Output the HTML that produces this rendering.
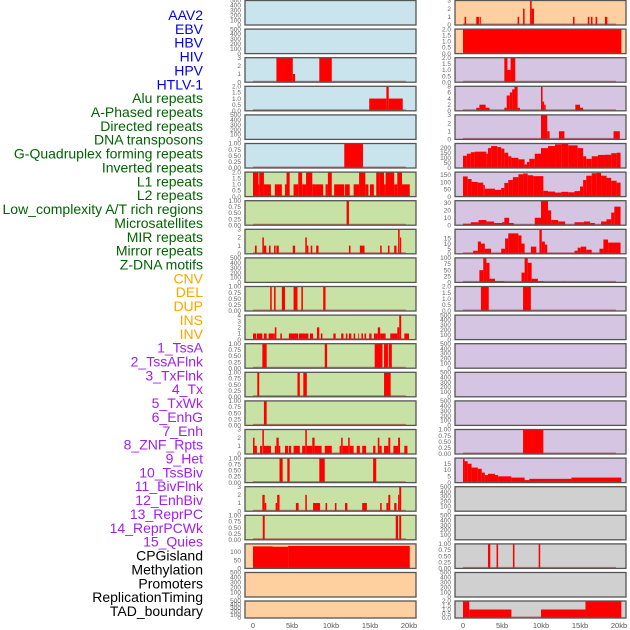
<!DOCTYPE html>
<html><head><meta charset="utf-8"><style>
body{margin:0;background:#fff;}
svg{display:block;font-family:"Liberation Sans",sans-serif;}
</style></head><body>
<svg id="chart" width="630" height="630" viewBox="0 0 630 630" xmlns="http://www.w3.org/2000/svg">
<g id="labels"></g>
<g id="panels"></g>
<g id="xaxis"></g>
</svg>
<script>
// ---- data ----
const labelNames = ["AAV2","EBV","HBV","HIV","HPV","HTLV-1","Alu repeats","A-Phased repeats","Directed repeats","DNA transposons","G-Quadruplex forming repeats","Inverted repeats","L1 repeats","L2 repeats","Low_complexity A/T rich regions","Microsatellites","MIR repeats","Mirror repeats","Z-DNA motifs","CNV","DEL","DUP","INS","INV","1_TssA","2_TssAFlnk","3_TxFlnk","4_Tx","5_TxWk","6_EnhG","7_Enh","8_ZNF_Rpts","9_Het","10_TssBiv","11_BivFlnk","12_EnhBiv","13_ReprPC","14_ReprPCWk","15_Quies","CPGisland","Methylation","Promoters","ReplicationTiming","TAD_boundary"];
const labelGroups = [6,13,5,15,5];
const groupColors = ["#0000ee","#006400","#ffa500","#a020f0","#000000"];
const xTicks = [0,5,10,15,20];
const xTickLabels = ["0","5kb","10kb","15kb","20kb"];

const T500=[0,100,200,300,400,500], T1=[0,0.25,0.5,0.75,1], T2=[0,0.5,1,1.5,2], T3=[0,1,2,3], T4=[0,1,2,3,4], T8=[0,2,4,6,8];
const tCpg=[0,50,100], tGq=[0,50,100,150,200], tL2=[0,50,100,150], t30=[0,10,20,30], t15=[0,5,10,15], t100=[0,25,50,75,100];

// left column series: [startKb, endKb, value]
const l1=[], l2=[], l5=[], l10=[], l21=[], l22=[];
const l3=[[3.0,5.1,3],[5.1,5.4,1],[8.5,10.1,3]];
const l4=[[14.9,17.1,1],[17.1,17.4,2],[17.4,19.2,1]];
const l6=[[11.7,14.1,1]];
const l7=[[0,0.7,2],[0.7,0.8,1],[0.8,1.4,2],[1.4,2.3,1],[2.8,3.7,1],[4.1,4.3,1],[4.3,4.7,2],[5.2,5.8,1],[5.8,6.3,2],[6.3,6.8,1],[6.8,7.6,2],[7.6,9.0,1],[9.3,9.6,1],[9.6,10.1,2],[10.4,11.7,1],[11.8,12.4,1],[12.9,13.6,1],[13.6,14.4,2],[14.4,14.8,1],[15.0,15.5,1],[15.8,16.2,2],[16.2,16.8,2],[16.8,17.0,1],[17.0,18.1,2],[18.1,18.5,1],[18.5,19.1,2],[19.1,20.1,1]];
const l8=[[12.0,12.3,1]];
const l9=[[0.25,0.47,1],[1.2,1.4,2],[1.4,1.7,1],[2.05,2.25,1],[2.7,2.9,1],[3.0,3.3,1],[5.1,5.4,1],[6.7,6.9,2],[6.9,7.1,1],[7.4,7.6,1],[8.1,8.4,1],[12.3,12.5,1],[13.7,14.1,1],[14.1,14.3,1],[16.3,16.5,1],[17.3,17.5,1],[18.1,18.4,1],[18.6,18.8,3],[18.85,19.0,2]];
const l11=[[2.2,2.4,1],[2.7,2.9,1],[3.7,4.1,1],[5.2,5.7,1],[6.2,6.4,1],[9.0,9.3,1]];
const l12=[[0,0.4,1],[0.5,1.2,1],[1.4,1.75,1],[2.0,2.6,1],[2.6,2.8,1],[2.8,3.0,2],[3.5,3.7,1],[4.6,5.8,1],[5.9,6.6,1],[6.6,7.1,1],[7.3,7.7,1],[8.2,8.5,2],[8.7,8.9,1],[10.3,10.6,1],[11.3,11.6,1],[11.9,12.1,1],[12.3,12.6,1],[12.9,13.1,1],[13.5,13.6,1],[13.9,14.1,1],[14.3,14.5,1],[14.9,15.2,1],[15.5,15.7,1],[15.7,16.0,1],[16.0,16.3,2],[16.3,17.0,1],[17.6,18.5,1],[18.5,18.75,2],[18.75,19.0,4],[19.4,20.0,1]];
const l13=[[1.2,1.75,1],[9.2,9.5,1],[15.6,16.6,1],[16.8,17.3,1],[17.4,17.8,1]];
const l14=[[0.55,0.8,1],[5.7,6.0,1],[6.45,6.9,1],[16.8,17.65,1]];
const l15=[[1.4,1.75,1]];
const l16=[[0,0.2,2],[0.2,0.5,1],[0.9,1.15,1],[1.2,1.4,3],[1.4,2.3,1],[2.8,3.0,1],[3.0,3.3,2],[3.3,3.5,1],[4.1,4.5,1],[4.6,4.9,1],[5.2,6.0,1],[6.3,6.7,1],[6.7,6.9,3],[6.9,7.6,1],[7.6,7.9,2],[7.9,8.8,1],[9.2,10.1,1],[11.1,11.3,1],[11.3,11.5,2],[11.5,12.2,1],[12.2,12.4,2],[12.4,12.9,1],[13.3,13.7,1],[14.0,14.5,1],[15.4,15.7,1],[16.0,16.2,2],[16.2,16.5,1],[16.8,17.35,1],[17.35,17.6,2],[18.0,18.6,1],[18.6,18.85,2],[19.4,19.8,1]];
const l17=[[3.4,3.8,1],[4.4,4.7,1],[8.5,9.2,1],[15.4,15.8,1]];
const l18=[[1.2,1.5,2],[1.5,1.7,1],[2.9,3.1,1],[3.1,3.4,2],[5.5,5.85,1],[6.7,6.9,2],[7.7,8.6,1],[9.3,9.5,1],[10.5,10.7,1],[11.8,12.1,1],[14.0,14.6,1],[16.3,16.5,1],[17.1,17.35,1],[17.35,17.6,2],[18.1,18.4,1],[18.6,18.75,2],[18.75,19.0,3]];
const l19=[[1.25,1.5,1],[18.3,18.6,1],[18.75,19.0,1]];
const l20=[[0,2.5,133],[2.5,4.5,131],[4.5,20.1,136]];

// right column series
const r12=[], r13=[], r14=[], r15=[], r18=[], r19=[], r21=[];
const r1=[[0.2,0.4,1],[1.7,2.1,1],[2.2,2.3,1],[7.0,7.2,1],[7.7,7.9,2],[8.6,8.8,3],[8.8,9.1,2],[14.1,14.3,1],[16.0,16.2,1],[16.4,16.6,1],[17.0,17.2,1],[18.2,18.5,1]];
const r2=[[0,20.3,2]];
const r3=[[5.3,5.7,2],[5.7,6.1,1],[6.1,6.7,2]];
const r4=[[1.7,2.1,1],[2.1,2.9,2],[2.9,3.4,1],[5.3,5.6,1],[5.6,6.0,5],[6.0,6.3,6],[6.3,6.6,7],[6.6,7.0,8],[7.0,7.3,1],[10.0,10.2,8],[10.2,10.4,3],[10.4,10.6,2],[14.4,15.0,2],[15.0,15.4,1]];
const r5=[[10.0,10.8,3],[10.8,11.1,1],[12.3,13.0,1],[19.3,20.1,1]];
const r6=[[0,0.5,120],[0.5,1,140],[1,1.5,155],[1.5,2.5,160],[2.5,3.0,160],[3.0,3.2,140],[3.2,3.6,195],[3.6,4.4,215],[4.4,4.9,205],[4.9,5.3,190],[5.3,5.8,150],[5.8,6.2,115],[6.2,7.1,100],[7.1,7.9,85],[7.9,8.2,35],[8.2,8.5,60],[8.5,9.2,90],[9.2,10.0,140],[10.0,10.9,195],[10.9,11.8,215],[11.8,12.6,232],[12.6,13.5,235],[13.5,14.7,222],[14.7,15.4,195],[15.4,15.8,115],[15.8,16.5,90],[16.5,17.3,115],[17.3,18.2,128],[18.2,19.0,130],[19.0,19.7,145],[19.7,20.2,150]];
const r7=[[0,0.6,140],[0.6,1.1,122],[1.1,1.9,102],[1.9,2.6,97],[2.6,2.8,80],[2.8,4.1,55],[4.1,4.9,47],[4.9,5.3,60],[5.3,5.8,95],[5.8,6.4,115],[6.4,7.1,135],[7.1,7.7,155],[7.7,8.3,160],[8.3,9.0,148],[9.0,10.3,142],[10.3,10.9,40],[10.9,11.8,35],[11.8,12.6,28],[12.6,13.5,33],[13.5,14.3,30],[14.3,15.0,38],[15.0,15.4,70],[15.4,15.8,115],[15.8,16.5,145],[16.5,17.1,162],[17.1,17.7,165],[17.7,18.4,145],[18.4,19.0,130],[19.0,19.7,110],[19.7,20.2,97]];
const r8=[[0,1,2],[1,2,4],[2,3,7],[3,4,5],[4,5,3],[5,5.3,4],[5.3,5.9,10],[5.9,6.5,3],[9.2,10.0,10],[10.0,10.9,33],[10.9,11.3,20],[11.3,12.2,7],[12.2,13.1,5],[14.3,15.5,4],[15.5,16.3,5],[16.3,16.9,3],[17.7,18.4,5],[18.4,19.0,8],[19.0,19.4,17],[19.4,20.2,25]];
const r9=[[1.3,1.9,3],[1.9,2.3,12],[2.3,2.8,10],[2.8,3.6,5],[4.9,5.4,5],[5.4,5.8,15],[5.8,7.1,20],[7.1,7.5,18],[7.5,7.9,10],[8.7,9.4,7],[9.8,10.1,24],[10.1,10.5,12],[10.5,10.8,9],[14.3,14.7,3],[14.7,15.1,6],[15.1,15.8,7],[15.8,16.5,4],[17.5,18.0,5],[18.0,18.6,14],[18.6,20.2,11]];
const r10=[[2.1,2.6,50],[2.6,3.0,100],[3.0,3.4,80],[3.4,4.1,15],[4.1,5.3,5],[7.5,7.9,40],[7.9,8.3,100],[8.3,8.8,80],[8.8,9.6,15],[9.6,10.3,5],[12.9,13.2,3]];
const r11=[[2.3,3.3,2],[7.7,8.7,2]];
const r16=[[7.7,10.3,1]];
const r17=[[0,0.2,19],[0.2,0.6,17],[0.6,1.1,15],[1.1,1.9,12],[1.9,2.4,11],[2.4,2.8,8],[2.8,3.2,6],[3.2,4.1,7],[4.1,4.5,6],[4.5,6.2,5],[6.2,7.9,4],[7.9,8.5,2],[8.5,13.9,3],[13.9,20.3,4]];
const r20=[[3.2,3.5,1],[4.3,4.5,1],[6.4,6.6,1],[9.7,9.9,1]];
const r22=[[0,0.8,2],[0.8,6.2,1],[10,15.7,1],[15.7,20.3,2]];

const leftSeries=[l1,l2,l3,l4,l5,l6,l7,l8,l9,l10,l11,l12,l13,l14,l15,l16,l17,l18,l19,l20,l21,l22];
const rightSeries=[r1,r2,r3,r4,r5,r6,r7,r8,r9,r10,r11,r12,r13,r14,r15,r16,r17,r18,r19,r20,r21,r22];
const leftTicks=[T500,T500,T3,T2,T500,T1,T2,T1,T3,T500,T1,T4,T1,T1,T1,T3,T1,T3,T1,tCpg,T500,T500];
const rightTicks=[T3,T2,T2,T8,T3,tGq,tL2,t30,t15,t100,T2,T500,T500,T500,T500,T1,t15,T500,T500,T1,T500,T2];
const leftYMax=[500,500,3,2,500,1,2,1,3,500,1,4,1,1,1,3,1,3,1,148,500,500];
const rightYMax=[3,2,2,8,3,240,170,33,24,100,2,500,500,500,500,1,19.5,500,500,1,500,2];
const leftBg=["#c9e4ec","#c9e4ec","#c9e4ec","#c9e4ec","#c9e4ec","#c9e4ec","#c8e1a5","#c8e1a5","#c8e1a5","#c8e1a5","#c8e1a5","#c8e1a5","#c8e1a5","#c8e1a5","#c8e1a5","#c8e1a5","#c8e1a5","#c8e1a5","#c8e1a5","#fed0a0","#fed0a0","#fed0a0"];
const rightBg=["#fed0a0","#fed0a0","#d5c5e2","#d5c5e2","#d5c5e2","#d5c5e2","#d5c5e2","#d5c5e2","#d5c5e2","#d5c5e2","#d5c5e2","#d5c5e2","#d5c5e2","#d5c5e2","#d5c5e2","#d5c5e2","#d5c5e2","#d0d0d0","#d0d0d0","#d0d0d0","#d0d0d0","#d0d0d0"];

// ---- drawing ----
const NS="http://www.w3.org/2000/svg";
function mk(tag,attrs,parent){const e=document.createElementNS(NS,tag);for(const k in attrs)e.setAttribute(k,attrs[k]);parent.appendChild(e);return e;}

// labels
const lg=document.getElementById('labels');
let gi=0,cnt=0;
labelNames.forEach((name,i)=>{
  while(cnt>=labelGroups[gi]){gi++;cnt=0;}
  cnt++;
  const t=mk('text',{x:203,y:(20+13.86*i).toFixed(1),'text-anchor':'end','font-size':14,fill:groupColors[gi]},lg);
  
  
  t.textContent=name;
});

const pg=document.getElementById('panels');
const KB=7.8;
function rowTop(i){return i===21?601:0.5+28.6*i;}
function rowH(i){return i===21?17:24.5;}
function fmt(ticks,v){
  const m=Math.max(...ticks);
  if(m===1) return v.toFixed(2);
  if(m===2) return v.toFixed(1);
  return String(v);
}
function drawCol(series,ticks,ymaxs,bgs,px0,origin,side){
  series.forEach((data,i)=>{
    const top=rowTop(i),h=rowH(i),bot=top+h;
    const g=mk('g',{},pg);
    
    
    const bg=mk('rect',{x:px0,y:top,width:171,height:h,fill:bgs[i]},g);
    
    
    const ymax=ymaxs[i];
    const ys=v=>bot-(v/ymax)*h;
    const xs=kb=>origin+kb*KB;
    data.forEach(d=>{
      const r=mk('rect',{x:xs(d[0]).toFixed(2),y:ys(Math.min(d[2],ymax)).toFixed(2),width:Math.max(0.8,xs(d[1])-xs(d[0])).toFixed(2),height:(bot-ys(Math.min(d[2],ymax))).toFixed(2),fill:'#ff0000'},g);
      
      
    });
    if(data.length){
      const b=mk('line',{x1:xs(0),x2:xs(19.6),y1:bot-0.8,y2:bot-0.8,stroke:'#b03030','stroke-opacity':0.6,'stroke-width':1.4},g);
      
      
    }
    const fr=mk('rect',{x:px0,y:top,width:171,height:h,fill:'none',stroke:'#555','stroke-width':1.3},g);
    
    
    ticks[i].forEach(v=>{
      const t=mk('text',{x:px0-4,y:(ys(v)+2.2).toFixed(1),'text-anchor':'end','font-size':6.5,fill:'#666'},g);
      
      
      t.textContent=fmt(ticks[i],v);
    });
  });
}
drawCol(leftSeries,leftTicks,leftYMax,leftBg,245,253,'left');
drawCol(rightSeries,rightTicks,rightYMax,rightBg,455,463,'right');

const xg=document.getElementById('xaxis');
[253,463].forEach((o,c)=>{
  xTicks.forEach((v,j)=>{
    const t=mk('text',{x:o+v*KB,y:628,'text-anchor':'middle','font-size':7.5,fill:'#555'},xg);
    
    
    t.textContent=xTickLabels[j];
  });
});
</script>
</body></html>
